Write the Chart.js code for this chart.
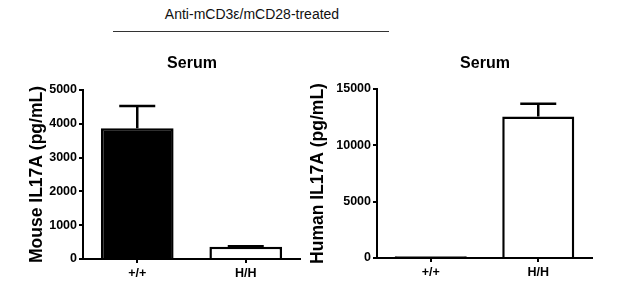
<!DOCTYPE html>
<html>
<head>
<meta charset="utf-8">
<script src="https://cdn.jsdelivr.net/npm/chart.js@4"></script>
<style>
  body { margin: 0; background: #fff; font-family: "Liberation Sans", Arial, sans-serif; }
  #wrap { position: relative; width: 643px; height: 304px; overflow: hidden; }
  #heading { position: absolute; left: 0; width: 504px; top: 6px; text-align: center; font-size: 14px; color: #111; }
  #rule { position: absolute; left: 113px; top: 31px; width: 276px; height: 0; border-top: 1.5px solid #333; }
  .panel-title { position: absolute; width: 200px; text-align: center; font-size: 16px; font-weight: bold; color: #000; line-height: 20px; }
  #title-mouse { left: 92px; top: 53px; }
  #title-human { left: 385px; top: 53px; }
  canvas { position: absolute; top: 0; }
  #mouse-chart { left: 0; }
  #human-chart { left: 300px; }
</style>
</head>
<body>
<div id="wrap">
  <div id="heading">Anti-mCD3ε/mCD28-treated</div>
  <div id="rule"></div>
  <canvas id="mouse-chart" width="310" height="304"></canvas>
  <canvas id="human-chart" width="343" height="304"></canvas>
  <div class="panel-title" id="title-mouse">Serum</div>
  <div class="panel-title" id="title-human">Serum</div>
</div>
<script>
// data
const categories = ['+/+', 'H/H'];
const mouseValues = [3870, 360];
const mouseErrors = [660, 20];
const humanValues = [150, 12550];
const humanErrors = [0, 1130];
const mouseTicks = [0, 1000, 2000, 3000, 4000, 5000];
const humanTicks = [0, 5000, 10000, 15000];
const barFills = ['#000000', '#ffffff'];

const FONT = '"Liberation Sans", Arial, sans-serif';

// simple error bar (upper only), drawn through the y scale
const errorBars = {
  id: 'errorBars',
  afterDatasetsDraw(chart, args, opts) {
    const ctx = chart.ctx;
    const yScale = chart.scales.y;
    const meta = chart.getDatasetMeta(0);
    const values = chart.data.datasets[0].data;
    ctx.save();
    ctx.strokeStyle = '#000';
    ctx.lineWidth = 2.5;
    meta.data.forEach((bar, i) => {
      const err = opts.errors[i];
      if (!err) return;
      const yTop = yScale.getPixelForValue(values[i]);
      const yErr = yScale.getPixelForValue(values[i] + err);
      ctx.beginPath();
      ctx.moveTo(bar.x, yTop);
      ctx.lineTo(bar.x, yErr);
      ctx.moveTo(bar.x - 18, yErr);
      ctx.lineTo(bar.x + 18, yErr);
      ctx.stroke();
    });
    ctx.restore();
  }
};

function makeChart(canvasId, values, errors, ticks, yTitle, opts) {
  const ctx = document.getElementById(canvasId);
  return new Chart(ctx, {
    type: 'bar',
    data: {
      labels: categories,
      datasets: [{
        data: values,
        backgroundColor: barFills,
        borderColor: '#000',
        borderWidth: 2.5,
        barPercentage: 0.67,
        categoryPercentage: 1
      }]
    },
    options: {
      responsive: false,
      animation: false,
      devicePixelRatio: 1,
      layout: { padding: { left: 0, right: opts.padRight, top: opts.padTop, bottom: 0 } },
      plugins: {
        legend: { display: false },
        tooltip: { enabled: false },
        title: { display: false },
        errorBars: { errors: errors }
      },
      scales: {
        x: {
          afterFit: (scale) => { scale.height = opts.xHeight; },
          grid: { display: true, offset: false, drawOnChartArea: false, drawTicks: true, tickLength: 4, color: '#000', lineWidth: 2 },
          border: { display: true, color: '#000', width: 2 },
          ticks: { color: '#000', padding: 3, font: { family: FONT, size: 12.5, weight: 'bold' } }
        },
        y: {
          min: ticks[0],
          max: ticks[ticks.length - 1],
          afterBuildTicks: (scale) => { scale.ticks = ticks.map(v => ({ value: v })); },
          afterFit: (scale) => { scale.width = opts.yWidth; },
          grid: { display: true, drawOnChartArea: false, drawTicks: true, tickLength: 4, color: '#000', lineWidth: 2 },
          border: { display: true, color: '#000', width: 2 },
          ticks: {
            color: '#000',
            padding: 2,
            font: { family: FONT, size: 12.5, weight: 'bold' },
            callback: (value) => String(value)
          },
          title: {
            display: true,
            text: yTitle,
            color: '#000',
            font: { family: FONT, size: 17.5, weight: 'bold', lineHeight: 1.2 },
            padding: { top: opts.yTitlePad, bottom: 0 }
          }
        }
      }
    },
    plugins: [errorBars]
  });
}

document.addEventListener('DOMContentLoaded', () => {
  makeChart('mouse-chart', mouseValues, mouseErrors, mouseTicks, 'Mouse IL17A (pg/mL)', {
    padRight: 10, padTop: 90, xHeight: 45, yWidth: 83, yTitlePad: 27
  });
  makeChart('human-chart', humanValues, humanErrors, humanTicks, 'Human IL17A (pg/mL)', {
    padRight: 51, padTop: 89, xHeight: 46, yWidth: 77, yTitlePad: 8
  });
});
</script>
</body>
</html>
